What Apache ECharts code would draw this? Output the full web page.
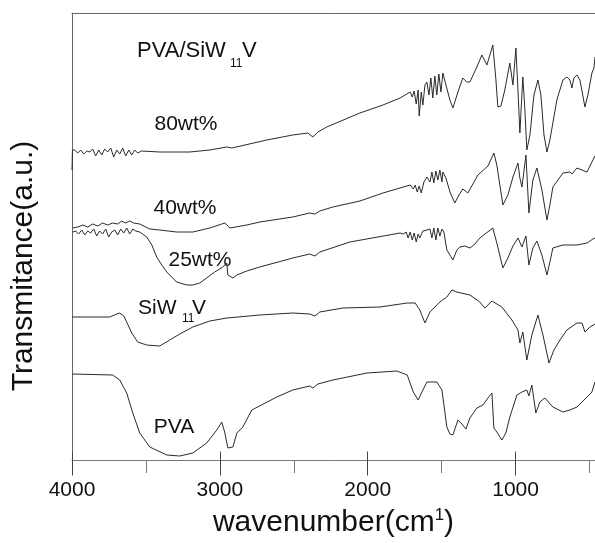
<!DOCTYPE html>
<html><head><meta charset="utf-8">
<script src="https://cdn.jsdelivr.net/npm/echarts@6/dist/echarts.min.js"></script>
<style>html,body{margin:0;padding:0;background:#fff}#c{width:595px;height:543px}</style>
</head><body><div id="c"></div>
<script>
// wavenumber range (cm-1), x axis reversed
const xMin = 463, xMax = 4000;
const majorTicks = [4000, 3000, 2000, 1000];
const allTicks = [4000, 3500, 3000, 2500, 2000, 1500, 1000, 500];
const xTitle = 'wavenumber(cm';
const yTitle = 'Transmitance(a.u.)';

// [wavenumber, transmittance (a.u., offset stacked)]
const pva = [[3999,86],[3725,85],[3677,80],[3630,67],[3589,47],[3542,27],[3474,13],[3359,5],[3271,4],[3183,7],[3089,17],[3021,30],[2987,38],[2966,27],[2946,12],[2912,13],[2885,27],[2845,33],[2784,50],[2615,63],[2507,70],[2392,74],[2371,72],[2337,76],[2236,80],[2005,87],[1803,89],[1733,85],[1692,68],[1659,60],[1627,70],[1600,78],[1533,78],[1498,70],[1465,33],[1444,26],[1424,25],[1390,40],[1363,36],[1336,31],[1309,42],[1262,52],[1221,55],[1187,62],[1160,67],[1147,32],[1127,28],[1093,20],[1066,27],[1039,43],[991,65],[957,68],[924,70],[910,64],[890,75],[863,47],[836,58],[802,62],[748,53],[680,48],[633,50],[585,53],[517,63],[484,68],[463,78]];

const siw = [[3999,143],[3880,143],[3745,143],[3697,146],[3677,147],[3650,144],[3630,138],[3596,127],[3556,118],[3495,115],[3407,114],[3339,120],[3271,126],[3183,133],[3068,139],[2953,142],[2730,145],[2507,147],[2392,146],[2357,144],[2324,148],[2168,152],[1917,153],[1733,157],[1679,157],[1648,150],[1613,137],[1579,148],[1512,158],[1465,163],[1431,170],[1397,168],[1309,165],[1242,158],[1208,152],[1160,159],[1093,153],[1025,140],[984,130],[971,117],[951,128],[924,100],[890,125],[849,145],[815,125],[774,97],[741,110],[700,120],[653,130],[585,137],[551,137],[531,128],[497,133],[463,136]];

const wt25 = [[3995,228],[3975,229],[3955,226],[3934,230],[3914,225],[3894,229],[3874,227],[3853,231],[3833,224],[3813,229],[3793,226],[3772,231],[3752,223],[3732,228],[3711,230],[3691,225],[3671,231],[3650,227],[3630,232],[3610,226],[3589,231],[3569,229],[3542,228],[3495,223],[3460,215],[3427,203],[3393,195],[3359,188],[3292,178],[3224,175],[3183,175],[3136,177],[3089,182],[3035,188],[2980,193],[2953,197],[2946,185],[2912,182],[2885,185],[2818,189],[2730,193],[2507,202],[2392,206],[2357,204],[2324,208],[2121,218],[1781,227],[1760,226],[1740,228],[1727,222],[1713,228],[1699,220],[1686,227],[1672,218],[1659,226],[1648,222],[1627,229],[1600,230],[1579,231],[1566,222],[1553,232],[1539,220],[1526,232],[1512,224],[1498,231],[1485,228],[1465,210],[1444,205],[1424,200],[1397,210],[1377,213],[1343,214],[1309,212],[1275,216],[1242,222],[1154,232],[1127,217],[1086,192],[1052,202],[1018,214],[984,222],[957,213],[930,224],[910,195],[883,212],[856,219],[822,205],[788,185],[768,198],[748,212],[680,215],[585,215],[517,217],[477,221],[463,222]];

const wt40 = [[3995,232],[3961,233],[3927,235],[3894,233],[3860,236],[3826,234],[3793,237],[3759,235],[3725,237],[3691,236],[3664,239],[3637,237],[3610,239],[3583,237],[3542,236],[3474,231],[3407,230],[3292,228],[3183,228],[3068,232],[2987,236],[2966,237],[2932,232],[2818,235],[2730,238],[2507,243],[2392,247],[2357,246],[2324,249],[2236,253],[2053,259],[1897,267],[1713,275],[1692,271],[1679,275],[1665,268],[1652,274],[1638,267],[1620,278],[1600,283],[1579,278],[1566,288],[1553,277],[1539,289],[1526,280],[1512,290],[1498,278],[1492,288],[1471,282],[1444,268],[1411,257],[1383,265],[1357,271],[1323,267],[1296,274],[1255,285],[1187,294],[1147,307],[1127,295],[1086,255],[1052,265],[1018,283],[984,297],[971,282],[957,273],[930,305],[910,247],[883,280],[856,292],[822,270],[788,240],[768,255],[748,273],[680,287],[633,288],[619,286],[585,292],[517,288],[484,298],[463,304]];

const wt80 = [[4000,290],[3997,310],[3982,310],[3961,307],[3941,310],[3921,306],[3900,309],[3880,308],[3860,311],[3840,304],[3819,310],[3799,305],[3779,311],[3759,308],[3738,312],[3718,303],[3697,310],[3677,306],[3657,312],[3637,304],[3616,310],[3596,305],[3576,310],[3556,307],[3529,309],[3407,308],[3204,308],[3068,310],[2953,313],[2919,312],[2683,320],[2507,325],[2405,327],[2371,323],[2337,328],[2277,333],[2053,347],[1897,355],[1781,362],[1713,368],[1699,363],[1686,369],[1672,356],[1659,370],[1652,344],[1638,368],[1627,355],[1613,375],[1600,378],[1586,365],[1573,382],[1560,362],[1546,384],[1533,365],[1519,386],[1505,368],[1492,387],[1471,375],[1444,360],[1424,352],[1390,368],[1357,382],[1330,378],[1309,378],[1262,393],[1228,405],[1194,395],[1154,415],[1133,380],[1120,353],[1099,354],[1073,370],[1039,397],[1018,375],[998,412],[984,370],[971,327],[951,383],[937,350],[924,310],[903,325],[876,365],[849,380],[829,365],[808,325],[788,308],[768,320],[721,360],[680,380],[653,383],[633,380],[619,372],[606,382],[585,385],[565,380],[531,353],[511,365],[484,387],[470,392],[463,403]];

const FONT = '"Liberation Sans", Arial, Helvetica, sans-serif';
const chart = echarts.init(document.getElementById('c'), null, {renderer: 'canvas'});

function mk(data) {
  return {type: 'line', data: data, xAxisIndex: 0, yAxisIndex: 0, showSymbol: false, symbol: 'none',
    lineStyle: {color: '#2a2a2a', width: 1}, silent: true};
}
function txt(str, x, y, size, align) {
  return {type: 'text', x: x, y: y, silent: true,
    style: {text: str, fontFamily: FONT, fontSize: size, fill: '#111', align: align || 'left', verticalAlign: 'middle'}};
}

const option = {
  animation: false,
  backgroundColor: '#fff',
  grid: [
    {left: 72, right: 0, top: 13, bottom: 83},
    {left: 72, right: 0, top: 13, bottom: 83}
  ],
  xAxis: [
    {gridIndex: 0, type: 'value', inverse: true, min: xMin, max: xMax, position: 'bottom',
      axisLine: {show: true, lineStyle: {color: '#777', width: 1}},
      axisTick: {show: true, customValues: allTicks, length: 13, lineStyle: {color: '#777'}},
      axisLabel: {show: false}, splitLine: {show: false}},
    {gridIndex: 0, type: 'value', inverse: true, min: xMin, max: xMax, position: 'top',
      axisLine: {show: true, lineStyle: {color: '#666', width: 1}},
      axisTick: {show: false}, axisLabel: {show: false}, splitLine: {show: false}},
    {gridIndex: 1, type: 'value', inverse: true, min: xMin, max: xMax, position: 'bottom',
      axisLine: {show: false},
      axisTick: {show: true, customValues: majorTicks, length: 24, lineStyle: {color: '#444'}},
      axisLabel: {show: true, customValues: majorTicks, margin: 28, fontSize: 21, color: '#111', fontFamily: FONT,
        formatter: function (v) { return String(v); }},
      splitLine: {show: false},
      name: '{a|' + xTitle + '}{s|1}{a|)}', nameLocation: 'middle', nameGap: 55,
      nameTextStyle: {rich: {
        a: {fontSize: 30, fontFamily: FONT, color: '#111', lineHeight: 33},
        s: {fontSize: 17, fontFamily: FONT, color: '#111', verticalAlign: 'top', lineHeight: 33}
      }}}
  ],
  yAxis: [
    {gridIndex: 0, type: 'value', min: 0, max: 447,
      axisLine: {show: true, lineStyle: {color: '#666', width: 1}},
      axisTick: {show: false}, axisLabel: {show: false}, splitLine: {show: false}},
    {gridIndex: 1, type: 'value', min: 0, max: 447, show: false}
  ],
  series: [mk(pva), mk(siw), mk(wt25), mk(wt40), mk(wt80)],
  graphic: [
    txt('PVA/SiW', 137, 51, 22),
    txt('11', 230, 64, 12),
    txt('V', 242, 51, 22),
    txt('80wt%', 186, 124, 21, 'center'),
    txt('40wt%', 185, 208, 21, 'center'),
    txt('25wt%', 200, 260, 21, 'center'),
    txt('SiW', 138, 308, 21),
    txt('11', 182, 319, 12),
    txt('V', 192, 308, 21),
    txt('PVA', 174, 427, 21, 'center'),
    {type: 'text', x: 24, y: 266, rotation: Math.PI / 2, silent: true,
      style: {text: yTitle, fontFamily: FONT, fontSize: 30, fill: '#111', align: 'center', verticalAlign: 'middle'}}
  ]
};
chart.setOption(option);
</script>
</body></html>
